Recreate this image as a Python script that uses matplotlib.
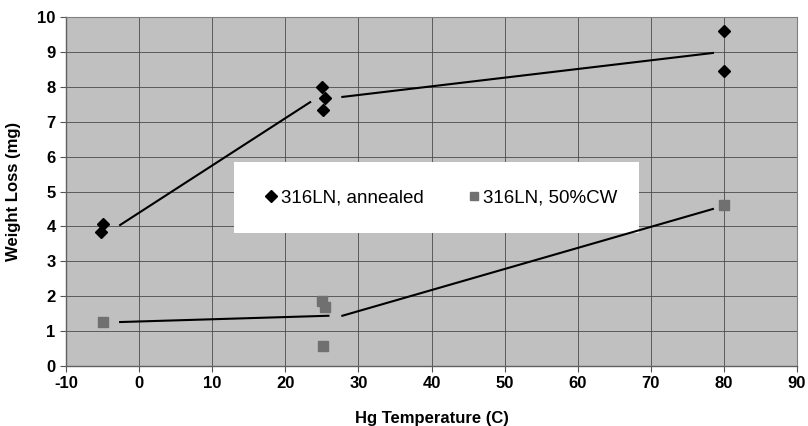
"""Weight loss vs Hg temperature for 316LN specimens."""
import matplotlib

matplotlib.use("Agg")
import matplotlib.pyplot as plt
from matplotlib.lines import Line2D
from matplotlib.patches import Rectangle

# measured points
annealed_x = [-5, -5.2, 25, 25.4, 25.2, 80, 80]
annealed_y = [4.06, 3.83, 8.0, 7.67, 7.34, 9.6, 8.45]
cw_x = [-5, 25, 25.4, 25.2, 80]
cw_y = [1.27, 1.87, 1.70, 0.58, 4.61]

# trend segments (drawn with gaps at the data columns)
annealed_seg1_x = [-2.6, 23.4]
annealed_seg1_y = [4.04, 7.56]
annealed_seg2_x = [27.8, 78.5]
annealed_seg2_y = [7.71, 8.97]
cw_seg1_x = [-2.6, 25.9]
cw_seg1_y = [1.26, 1.44]
cw_seg2_x = [27.8, 78.5]
cw_seg2_y = [1.44, 4.5]

x_ticks = list(range(-10, 91, 10))
y_ticks = list(range(0, 11))

plt.rcParams["font.family"] = ["Liberation Sans", "DejaVu Sans"]
plt.rcParams["font.weight"] = "bold"
plt.rcParams["axes.unicode_minus"] = False

fig = plt.figure(figsize=(8.08, 4.26), dpi=100)
ax = fig.add_axes([0.0817, 0.1408, 0.9047, 0.8193])
ax.set_facecolor("#c0c0c0")

ax.set_xlim(-10, 90)
ax.set_ylim(0, 10)
ax.set_xticks(x_ticks)
ax.set_yticks(y_ticks)
ax.tick_params(labelsize=12, length=4, width=0.8, color="#555555")
for lbl in ax.get_xticklabels() + ax.get_yticklabels():
    lbl.set_fontweight("bold")

ax.set_axisbelow(True)
ax.grid(True, color="#4a4a4a", linewidth=0.6)
for side in ["top", "right"]:
    ax.spines[side].set_color("#808080")
for side in ["left", "bottom"]:
    ax.spines[side].set_color("#606060")
    ax.spines[side].set_linewidth(1.0)

# white legend panel
ax.add_patch(
    Rectangle((0.2298, 0.381), 0.554, 0.203, transform=ax.transAxes,
              facecolor="white", edgecolor="none", zorder=2)
)

for sx, sy in [(annealed_seg1_x, annealed_seg1_y), (annealed_seg2_x, annealed_seg2_y),
               (cw_seg1_x, cw_seg1_y), (cw_seg2_x, cw_seg2_y)]:
    ax.plot(sx, sy, color="black", linewidth=1.5, zorder=3)

ax.plot(annealed_x, annealed_y, linestyle="none", marker="D", markersize=6.5,
        color="black", zorder=4)
ax.plot(cw_x, cw_y, linestyle="none", marker="s", markersize=7.5,
        color="#707070", zorder=4)

handles = [
    Line2D([], [], linestyle="none", marker="D", markersize=6, color="black"),
    Line2D([], [], linestyle="none", marker="s", markersize=6, color="#707070"),
]
leg = ax.legend(
    handles, ["316LN, annealed", "316LN, 50%CW"], ncol=2, frameon=False,
    loc="center", bbox_to_anchor=(0.2298 + 0.554 / 2 + 0.007, 0.381 + 0.203 / 2),
    prop={"family": ["Liberation Sans", "DejaVu Sans"], "weight": "normal", "size": 13.5},
    handlelength=0.6, handletextpad=0.2, columnspacing=2.4,
)
leg.set_zorder(5)

ax.set_xlabel("Hg Temperature (C)", fontsize=12, fontweight="bold", labelpad=14)
ax.set_ylabel("Weight Loss (mg)", fontsize=12, fontweight="bold", labelpad=12)

fig.savefig("out.png", dpi=100)
